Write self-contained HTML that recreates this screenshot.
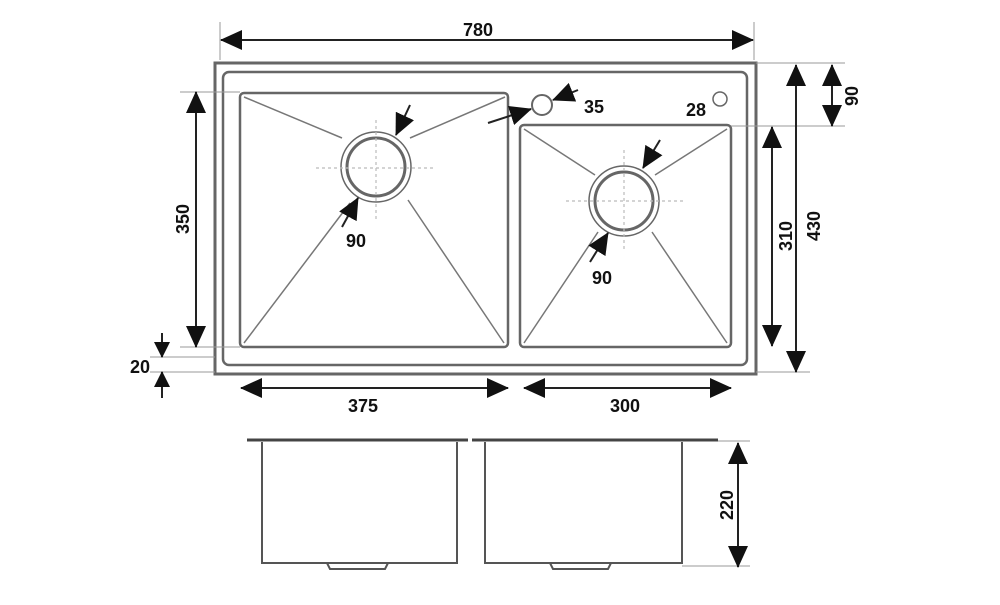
<!DOCTYPE html>
<html><head><meta charset="utf-8"><style>
body{margin:0;background:#fff;}
text{font-family:"Liberation Sans",sans-serif;font-weight:bold;font-size:18px;fill:#111;}
</style></head><body>
<svg width="1000" height="600" viewBox="0 0 1000 600" xmlns="http://www.w3.org/2000/svg">
<defs>
<marker id="a" markerWidth="22" markerHeight="20" refX="21" refY="10" orient="auto-start-reverse" markerUnits="userSpaceOnUse" viewBox="0 0 22 20"><path d="M0,0 L22,10 L0,20z" fill="#111"/></marker>
<marker id="b" markerWidth="16" markerHeight="16" refX="15" refY="8" orient="auto-start-reverse" markerUnits="userSpaceOnUse" viewBox="0 0 16 16"><path d="M0,0 L16,8 L0,16z" fill="#111"/></marker>
</defs>
<g fill="none" stroke="#666">
<rect x="215" y="63" width="541" height="311" stroke-width="3"/>
<rect x="223" y="72" width="524" height="293" rx="6" stroke-width="2.5"/>
<rect x="240" y="93" width="268" height="254" rx="4" stroke-width="2.5"/>
<rect x="520" y="125" width="211" height="222" rx="4" stroke-width="2.5"/>
<g stroke-width="1.5" stroke="#777">
<line x1="244" y1="97" x2="342" y2="138"/><line x1="505" y1="97" x2="410" y2="138"/>
<line x1="244" y1="343" x2="350" y2="203"/><line x1="504" y1="343" x2="408" y2="200"/>
<line x1="524" y1="129" x2="595" y2="175"/><line x1="727" y1="129" x2="655" y2="175"/>
<line x1="524" y1="343" x2="598" y2="232"/><line x1="727" y1="343" x2="652" y2="232"/>
</g>
<circle cx="376" cy="167" r="35" stroke-width="1.5"/>
<circle cx="376" cy="167" r="29" stroke-width="3"/>
<circle cx="624" cy="201" r="35" stroke-width="1.5"/>
<circle cx="624" cy="201" r="29" stroke-width="3"/>
<circle cx="542" cy="105" r="10" stroke-width="2"/>
<circle cx="720" cy="99" r="7" stroke-width="1.5"/>
<g stroke="#bbb" stroke-dasharray="3,3" stroke-width="1.2">
<line x1="316" y1="168" x2="434" y2="168"/><line x1="376" y1="120" x2="376" y2="222"/>
<line x1="566" y1="201" x2="684" y2="201"/><line x1="624" y1="150" x2="624" y2="252"/>
</g>
<g stroke-width="3" stroke="#444">
<line x1="247" y1="440" x2="468" y2="440"/><line x1="472" y1="440" x2="718" y2="440"/>
</g>
<g stroke-width="2" stroke="#555">
<path d="M262,442 V563 H457 V442"/><path d="M485,442 V563 H682 V442"/>
<path d="M327,563 l3,6 h55 l3,-6"/><path d="M550,563 l3,6 h55 l3,-6"/>
</g>
<g stroke="#999" stroke-width="1">
<line x1="682" y1="566" x2="750" y2="566"/><line x1="718" y1="441" x2="750" y2="441"/>
<line x1="150" y1="357" x2="215" y2="357"/><line x1="150" y1="372" x2="215" y2="372"/>
<line x1="180" y1="92" x2="240" y2="92"/><line x1="180" y1="347" x2="240" y2="347"/>
<line x1="756" y1="63" x2="845" y2="63"/><line x1="731" y1="126" x2="845" y2="126"/><line x1="756" y1="372" x2="810" y2="372"/>
<line x1="220" y1="22" x2="220" y2="60"/><line x1="754" y1="22" x2="754" y2="60"/>
</g>
</g>
<g stroke="#222" stroke-width="2" fill="none">
<line x1="221" y1="40" x2="753" y2="40" marker-start="url(#a)" marker-end="url(#a)"/>
<line x1="832" y1="65" x2="832" y2="126" marker-start="url(#a)" marker-end="url(#a)"/>
<line x1="796" y1="65" x2="796" y2="372" marker-start="url(#a)" marker-end="url(#a)"/>
<line x1="772" y1="127" x2="772" y2="346" marker-start="url(#a)" marker-end="url(#a)"/>
<line x1="196" y1="92" x2="196" y2="347" marker-start="url(#a)" marker-end="url(#a)"/>
<line x1="162" y1="333" x2="162" y2="357" marker-end="url(#b)"/>
<line x1="162" y1="398" x2="162" y2="372" marker-end="url(#b)"/>
<line x1="241" y1="388" x2="508" y2="388" marker-start="url(#a)" marker-end="url(#a)"/>
<line x1="524" y1="388" x2="731" y2="388" marker-start="url(#a)" marker-end="url(#a)"/>
<line x1="738" y1="443" x2="738" y2="567" marker-start="url(#a)" marker-end="url(#a)"/>
<line x1="410" y1="105" x2="396" y2="135" marker-end="url(#a)"/>
<line x1="342" y1="227" x2="358" y2="198" marker-end="url(#a)"/>
<line x1="660" y1="140" x2="643" y2="168" marker-end="url(#a)"/>
<line x1="590" y1="262" x2="608" y2="233" marker-end="url(#a)"/>
<line x1="488" y1="123" x2="531" y2="109" marker-end="url(#a)"/>
<line x1="578" y1="90" x2="553" y2="100" marker-end="url(#a)"/>
</g>
<text x="463" y="36">780</text>
<text x="584" y="113">35</text>
<text x="686" y="116">28</text>
<text x="346" y="247">90</text>
<text x="592" y="284">90</text>
<text x="348" y="412">375</text>
<text x="610" y="412">300</text>
<text x="130" y="373">20</text>
<text transform="translate(189,219) rotate(-90)" text-anchor="middle">350</text>
<text transform="translate(792,236) rotate(-90)" text-anchor="middle">310</text>
<text transform="translate(820,226) rotate(-90)" text-anchor="middle">430</text>
<text transform="translate(858,96) rotate(-90)" text-anchor="middle">90</text>
<text transform="translate(733,505) rotate(-90)" text-anchor="middle">220</text>
</svg>
</body></html>
